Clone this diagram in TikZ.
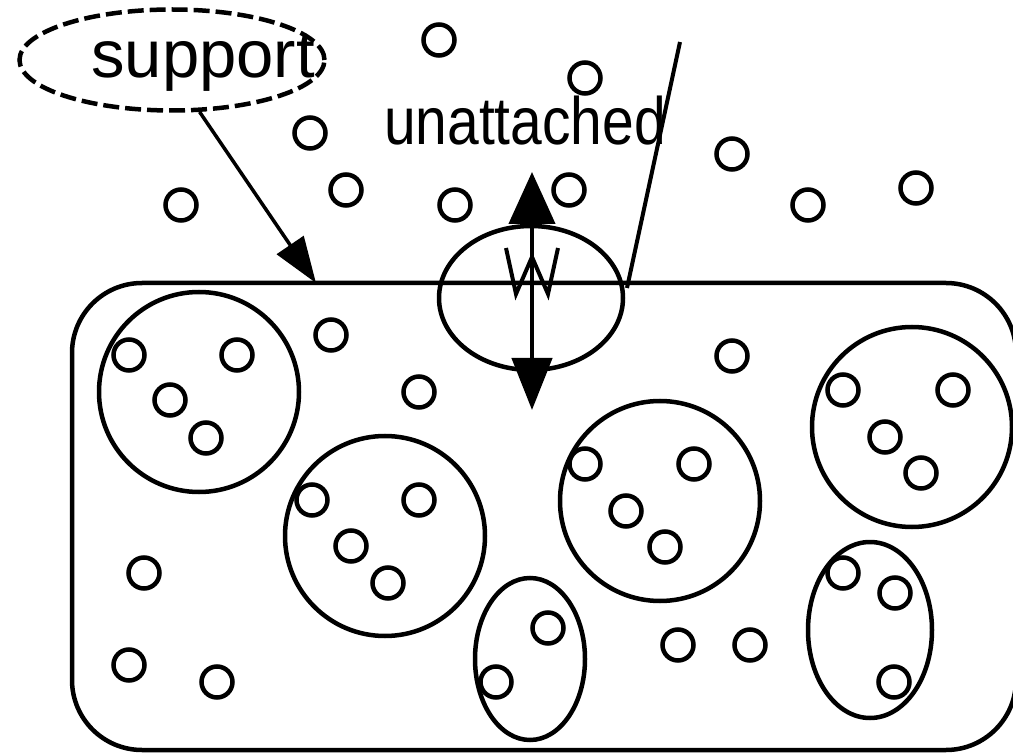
\documentclass[tikz,border=0pt]{standalone}
\usepackage{fontspec}
\setmainfont{Liberation Sans}
\usetikzlibrary{arrows.meta,shapes.geometric}
\begin{document}
\begin{tikzpicture}[x=1pt,y=-1pt,line width=4.5pt,
  sm/.style={circle,draw,minimum size=31pt,inner sep=0pt},
  big/.style={circle,draw,minimum size=200pt,inner sep=0pt},
  oval/.style={ellipse,draw,inner sep=0pt},
  lbl/.style={font=\fontsize{67}{80}\selectfont,inner sep=0pt,anchor=base},
  suptip/.style={-{Triangle[length=46pt,width=32pt]}},
  dbltip/.style={{Triangle[length=52pt,width=46pt]}-{Triangle[length=52pt,width=40pt]}}
]
\useasboundingbox (0,0) rectangle (1013,754);
% frame
\node[draw,rounded corners=70pt,minimum width=944pt,minimum height=467pt,inner sep=0pt] (frame) at (544,516.5) {};
% big circles
\node[big] (A) at (199,392) {};
\node[big] (B) at (385,536) {};
\node[big] (D) at (660,501) {};
\node[big] (E) at (912,427) {};
% ovals
\node[oval,minimum width=184pt,minimum height=144pt] (C) at (531,298) {};
\node[oval,minimum width=124pt,minimum height=176pt] (F) at (870,630) {};
\node[oval,minimum width=110pt,minimum height=162pt] (G) at (530,659) {};
% small circles
\foreach \px/\py [count=\i] in {439/40,585/78,310/133,732/154,346/190,181/205,455/205,569/190,808/205,916/188,
  129/355,237/355,170/400,206/438,331/335,419/392,732/356,144/573,129/665,217/682,
  312/500,419/500,351/546,388/583,585/464,694/464,626/511,665/547,678/645,750/645,
  843/390,953/390,885/437,921/473,843/573,895/593,894/682,548/628,496/682}
  \node[sm] (s\i) at (\px,\py) {};
% support label
\node[ellipse,draw,dash pattern=on 16pt off 6pt,minimum width=305pt,minimum height=101pt,inner sep=0pt] (supp) at (172,60) {};
\node[lbl] (tsup) at (203,78) {support};
\coordinate (tipS) at (316,283);
\draw[suptip,line width=3.5pt] (supp.-62) -- (tipS);
% unattached label
\node[lbl,xscale=0.85] (tun) at (525,145) {unattached};
\coordinate (uA) at (680,42);
\coordinate (uB) at (627,288);
\draw[line width=4pt] (uA) -- (uB);
% double arrow
\coordinate (aUp) at (532,172);
\coordinate (aDn) at (532,410);
\draw[dbltip] (aUp) -- (aDn);
% spring squiggle
\draw[line width=4pt] (506,248) -- (516,294) -- (532,257) -- (548,294) -- (558,248);
\end{tikzpicture}
\end{document}
